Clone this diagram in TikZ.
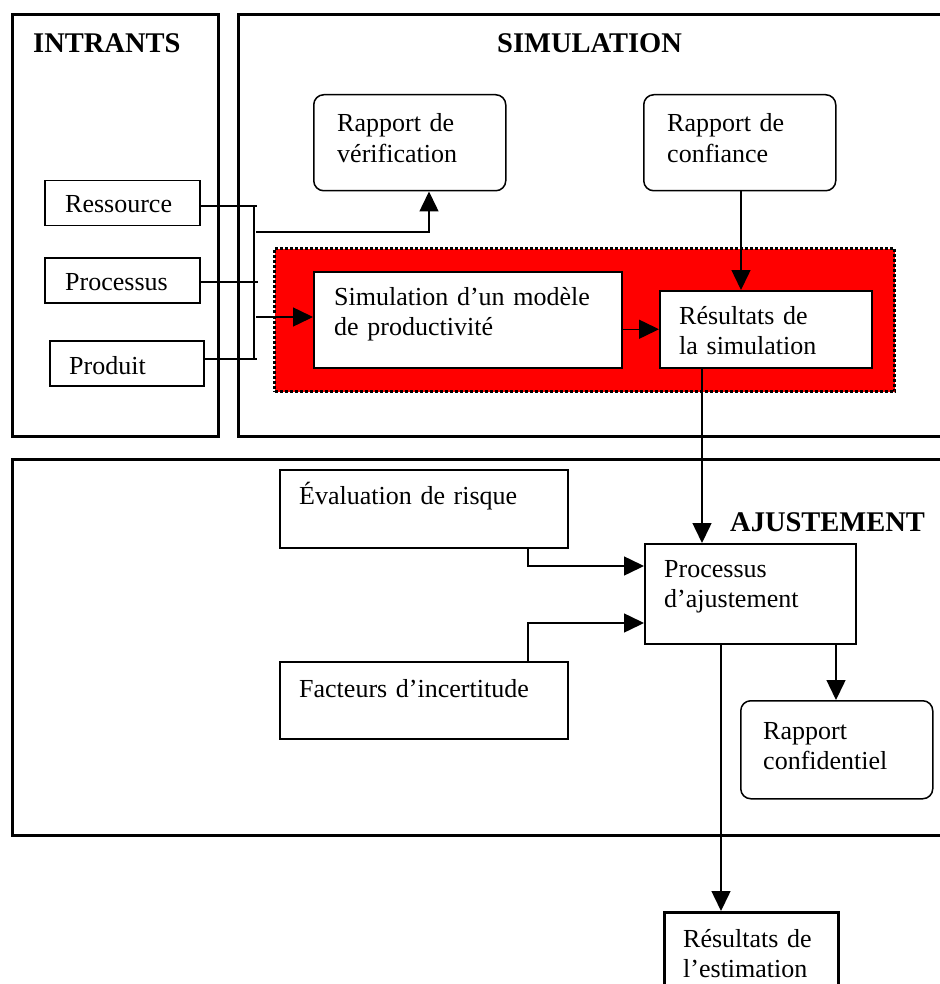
\documentclass[tikz,border=0pt]{standalone}
\usepackage{fontspec}
\setmainfont{Liberation Serif}
\usetikzlibrary{arrows.meta}
\begin{document}
\begin{tikzpicture}[x=1pt,y=-1pt,
  frame/.style={draw, line width=3pt, anchor=north west, inner sep=0pt, rectangle},
  sbox/.style={draw, line width=1.5pt, fill=white, anchor=north west, inner sep=0pt, rectangle},
  rbox/.style={sbox, rounded corners=10pt},
  txt/.style={inner sep=0pt, anchor=base west, align=left, text width=300pt, font=\fontsize{26}{30.5}\selectfont},
  ttl/.style={inner sep=0pt, anchor=base west, font=\fontsize{28.5}{32}\selectfont\bfseries},
  arr/.style={line width=1.5pt, -{Triangle[length=20pt,width=19pt]}},
  ln/.style={line width=1.5pt}]
\useasboundingbox (0,0) rectangle (939,984);

% big frames
\node[frame, minimum width=206pt, minimum height=422pt] (intr) at (11,13) {};
\node[frame, minimum width=720pt, minimum height=422pt] (sim) at (237,13) {};
\node[frame, minimum width=946pt, minimum height=376pt] (aj) at (11,458) {};

\node[ttl] (intrT) at (33,53) {INTRANTS};
\node[ttl] (simT) at (497,53) {SIMULATION};
\node[ttl] (ajT) at (730,531) {AJUSTEMENT};

% inputs
\node[sbox, minimum width=155pt, minimum height=45pt] (res) at (44,180) {};
\node[sbox, minimum width=155pt, minimum height=45pt] (proc) at (44,257) {};
\node[sbox, minimum width=154pt, minimum height=45pt] (prod) at (49,340) {};
\node[txt] (resT) at (65,213) {Ressource};
\node[txt] (procT) at (65,290) {Processus};
\node[txt] (prodT) at (69,374) {Produit};

% reports top
\node[rbox, minimum width=192pt, minimum height=96pt] (rv) at (313,94) {};
\node[rbox, minimum width=192pt, minimum height=96pt] (rc) at (643,94) {};
\node[txt] (rvT) at (337,132) {Rapport de\\vérification};
\node[txt] (rcT) at (667,132) {Rapport de\\confiance};

% red group
\node[draw, fill=red, line width=3pt, dash pattern=on 3pt off 2pt, anchor=north west, inner sep=0pt,
      minimum width=620pt, minimum height=143pt] (grp) at (273,247) {};
\node[sbox, minimum width=308pt, minimum height=96pt] (simm) at (313,271) {};
\node[sbox, minimum width=212pt, minimum height=77pt] (resu) at (659,290) {};
\node[txt] (simmT) at (334,305) {Simulation d’un modèle\\de productivité};
\node[txt] (resuT) at (679,324) {Résultats de\\la simulation};

% adjustment
\node[sbox, minimum width=288pt, minimum height=78pt] (ev) at (279,469) {};
\node[sbox, minimum width=288pt, minimum height=77pt] (fa) at (279,661) {};
\node[sbox, minimum width=211pt, minimum height=100pt] (pa) at (644,543) {};
\node[rbox, minimum width=192pt, minimum height=98pt] (rconf) at (740,700) {};
\node[sbox, line width=3pt, minimum width=174pt, minimum height=100pt] (rest) at (663,911) {};
\node[txt] (evT) at (299,504) {Évaluation de risque};
\node[txt] (faT) at (299,697) {Facteurs d’incertitude};
\node[txt] (paT) at (664,577) {Processus\\d’ajustement};
\node[txt] (rconfT) at (763,739) {Rapport\\confidentiel};
\node[txt] (restT) at (683,947) {Résultats de\\l’estimation};

% input bus
\coordinate (busT) at (254,206);
\coordinate (busB) at (254,359);
\coordinate (busP) at (258,282);
\coordinate (outV) at (256,232);
\coordinate (outS) at (256,317);
\coordinate (turnV) at (429,232);
\draw[ln] (res.east |- busT) -- (busT -| 257,0);
\draw[ln] (prod.east |- busB) -- (busB -| 257,0);
\draw[ln] (proc.east |- busP) -- (busP);
\draw[ln] (busT) -- (busB);
\draw[arr] (outV) -- (turnV) -- (turnV |- rv.south);
\draw[arr] (outS) -- (outS -| simm.west);

% simulation connectors
\draw[arr] (simm.east |- resu.west) -- (resu.west);
\coordinate (rcx) at (741,0);
\draw[arr] (rc.south -| rcx) -- (resu.north -| rcx);
\coordinate (dx) at (702,0);
\draw[arr] (resu.south -| dx) -- (pa.north -| dx);

% adjustment connectors
\coordinate (evx) at (528,0);
\coordinate (e1) at (528,566);
\coordinate (f1) at (528,623);
\draw[arr] (ev.south -| evx) -- (e1) -- (e1 -| pa.west);
\draw[arr] (fa.north -| evx) -- (f1) -- (f1 -| pa.west);
\coordinate (cx) at (836,0);
\draw[arr] (pa.south -| cx) -- (rconf.north -| cx);
\coordinate (ex) at (721,0);
\draw[arr] (pa.south -| ex) -- (rest.north -| ex);
\end{tikzpicture}
\end{document}
